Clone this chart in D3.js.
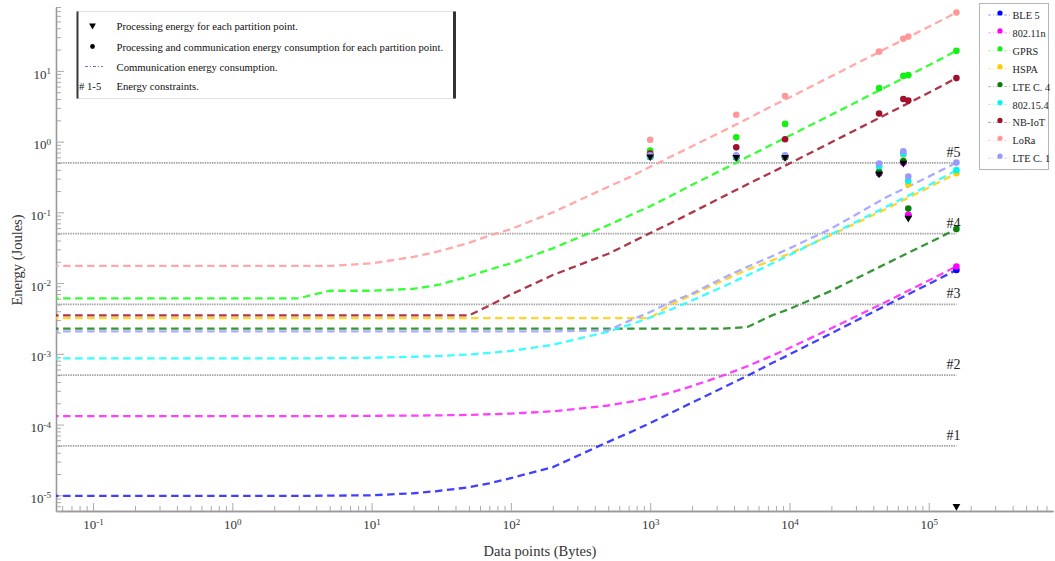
<!DOCTYPE html>
<html>
<head>
<meta charset="utf-8">
<script src="https://cdn.jsdelivr.net/npm/d3@7"></script>
<style>
  body { margin: 0; background: #fff; }
  svg { display: block; }
  text { font-family: "Liberation Serif", "Times New Roman", serif; }
</style>
</head>
<body>
<svg id="chart" width="1055" height="561"></svg>
<script>
// ---- data -------------------------------------------------------------
// Payload size (bytes) at which the communication energy curves are sampled
const bytes = [0.05, 0.1, 0.2, 0.5, 1, 2, 3, 5, 10, 20, 30, 50, 70, 100, 200, 500, 700,
               1000, 1400, 2000, 3300, 5000, 7500, 10000, 20000, 50000, 100000, 158000];

// Communication energy (J) per technology
const ble5 = [9.8e-6, 9.8e-6, 9.8e-6, 9.8e-6, 9.8e-6, 9.8e-6, 9.8e-6, 9.9e-6, 1.0e-5, 1.07e-5, 1.15e-5, 1.3e-5, 1.48e-5, 1.75e-5,
              2.5e-5, 5.7e-5, 7.6e-5, 1.05e-4, 1.45e-4, 2.05e-4, 3.3e-4, 4.9e-4, 7.4e-4, 9.8e-4, 1.95e-3, 4.9e-3, 9.7e-3, 0.0153];
const wifi80211n = [1.32e-4, 1.32e-4, 1.32e-4, 1.32e-4, 1.32e-4, 1.32e-4, 1.32e-4, 1.32e-4, 1.33e-4, 1.34e-4, 1.35e-4, 1.37e-4, 1.4e-4, 1.43e-4,
                    1.54e-4, 1.86e-4, 2.08e-4, 2.4e-4, 2.83e-4, 3.5e-4, 4.9e-4, 6.7e-4, 9.4e-4, 1.21e-3, 2.3e-3, 5.5e-3, 0.0109, 0.0172];
const gprs = [6.1e-3, 6.1e-3, 6.1e-3, 6.1e-3, 6.1e-3, 6.1e-3, 6.1e-3, 7.8e-3, 7.8e-3, 8.3e-3, 9.4e-3, 0.0125, 0.0155, 0.019,
              0.031, 0.066, 0.089, 0.122, 0.17, 0.245, 0.40, 0.61, 0.91, 1.21, 2.4, 6.0, 12.0, 19.2];
const hspa = [3.2e-3, 3.2e-3, 3.2e-3, 3.2e-3, 3.2e-3, 3.2e-3, 3.2e-3, 3.2e-3, 3.2e-3, 3.2e-3, 3.2e-3, 3.2e-3, 3.2e-3, 3.2e-3,
              3.2e-3, 3.2e-3, 3.2e-3, 3.2e-3, 5.0e-3, 6.8e-3, 0.0108, 0.0155, 0.021, 0.026, 0.048, 0.113, 0.225, 0.357];
const lteCat4 = [2.27e-3, 2.27e-3, 2.27e-3, 2.27e-3, 2.27e-3, 2.27e-3, 2.27e-3, 2.27e-3, 2.27e-3, 2.27e-3, 2.27e-3, 2.27e-3, 2.27e-3, 2.27e-3,
                 2.27e-3, 2.27e-3, 2.27e-3, 2.27e-3, 2.27e-3, 2.27e-3, 2.27e-3, 2.4e-3, 3.5e-3, 4.3e-3, 7.8e-3, 0.019, 0.037, 0.058];
const ieee802154 = [8.6e-4, 8.6e-4, 8.6e-4, 8.6e-4, 8.6e-4, 8.6e-4, 8.6e-4, 8.7e-4, 8.8e-4, 9.1e-4, 9.3e-4, 9.8e-4, 1.03e-3, 1.1e-3,
                    1.34e-3, 2.06e-3, 2.54e-3, 3.26e-3, 4.2e-3, 5.7e-3, 8.8e-3, 0.0129, 0.0189, 0.0249, 0.049, 0.121, 0.241, 0.395];
const nbIot = [3.5e-3, 3.5e-3, 3.5e-3, 3.5e-3, 3.5e-3, 3.5e-3, 3.5e-3, 3.5e-3, 3.5e-3, 3.5e-3, 3.5e-3, 3.5e-3, 4.8e-3, 6.9e-3,
               0.013, 0.026, 0.036, 0.051, 0.07, 0.1, 0.165, 0.25, 0.37, 0.49, 0.98, 2.45, 4.9, 7.9];
const lora = [0.0175, 0.0175, 0.0175, 0.0175, 0.0175, 0.0175, 0.0175, 0.0175, 0.019, 0.0235, 0.028, 0.037, 0.047, 0.058,
              0.1, 0.23, 0.31, 0.44, 0.61, 0.86, 1.4, 2.1, 3.2, 4.2, 8.4, 21, 42, 66.8];
const lteCat1 = [2.08e-3, 2.08e-3, 2.08e-3, 2.08e-3, 2.08e-3, 2.08e-3, 2.08e-3, 2.08e-3, 2.08e-3, 2.08e-3, 2.08e-3, 2.08e-3, 2.08e-3, 2.08e-3,
                 2.08e-3, 2.15e-3, 2.9e-3, 3.9e-3, 5.4e-3, 7.1e-3, 0.0117, 0.017, 0.024, 0.031, 0.059, 0.165, 0.32, 0.505];

// Partition points: output size (bytes) of each candidate split
const partitionBytes = [1000, 4150, 9300, 44000, 65700, 71300, 158000];
const processingEnergy = [0.61, 0.60, 0.60, 0.35, 0.50, 0.083, 7e-6];

// Processing + communication energy (J) at each partition point
const ble5Total       = [0.61, 0.60, 0.60, 0.355, 0.507, 0.090, 0.0153];
const wifi80211nTotal = [0.61, 0.60, 0.60, 0.356, 0.508, 0.092, 0.0172];
const gprsTotal       = [0.75, 1.15, 1.78, 5.7, 8.5, 8.7, 19.2];
const hspaTotal       = [0.613, 0.61, 0.625, 0.44, 0.65, 0.25, 0.357];
const lteCat4Total    = [0.612, 0.602, 0.604, 0.37, 0.53, 0.113, 0.058];
const ieee802154Total = [0.613, 0.61, 0.625, 0.45, 0.67, 0.28, 0.395];
const nbIotTotal      = [0.68, 0.83, 1.08, 2.5, 4.0, 3.8, 7.9];
const loraTotal       = [1.06, 2.4, 4.4, 18.7, 28.4, 30.5, 66.8];
const lteCat1Total    = [0.64, 0.64, 0.64, 0.49, 0.73, 0.32, 0.505];

const seriesNames = ["BLE 5", "802.11n", "GPRS", "HSPA", "LTE C. 4", "802.15.4", "NB-IoT", "LoRa", "LTE C. 1"];

// Energy constraints
const constraintLevels = [5e-5, 5e-4, 5e-3, 0.05, 0.5];
const constraintLabels = ["#1", "#2", "#3", "#4", "#5"];

const xTickValues = [0.1, 1, 10, 100, 1000, 10000, 100000];
const yTickValues = [1e-5, 1e-4, 1e-3, 1e-2, 1e-1, 1, 10];

// ---- styling ----------------------------------------------------------
const seriesStyle = [
  { line: "#3030ff", dot: "#0000ff" },
  { line: "#ff30ff", dot: "#ff00ff" },
  { line: "#26ff26", dot: "#14f014" },
  { line: "#ffd01a", dot: "#ffcc00" },
  { line: "#258c25", dot: "#0b7d0b" },
  { line: "#2affff", dot: "#00f4f4" },
  { line: "#a52638", dot: "#a0102d" },
  { line: "#ffa2a2", dot: "#ff9898" },
  { line: "#a4a4ff", dot: "#9898ff" }
];

const lineValues = [ble5, wifi80211n, gprs, hspa, lteCat4, ieee802154, nbIot, lora, lteCat1];
const totalValues = [ble5Total, wifi80211nTotal, gprsTotal, hspaTotal, lteCat4Total,
                     ieee802154Total, nbIotTotal, loraTotal, lteCat1Total];

const series = seriesNames.map((name, i) => ({
  name,
  style: seriesStyle[i],
  curve: bytes.map((b, j) => [b, lineValues[i][j]]),
  points: partitionBytes.map((b, j) => [b, totalValues[i][j]])
}));

// ---- layout -----------------------------------------------------------
const plot = { left: 56, right: 1053, top: 7, bottom: 511 };
const svg = d3.select("#chart");

const x = d3.scaleLog().domain([0.0542, 7.8e5]).range([plot.left, plot.right]);
const y = d3.scaleLog().domain([6e-6, 80]).range([plot.bottom, plot.top]);

svg.append("defs").append("clipPath").attr("id", "plot-area")
  .append("rect")
  .attr("x", plot.left).attr("y", plot.top)
  .attr("width", plot.right - plot.left).attr("height", plot.bottom - plot.top);

// minor tick positions (2..9 in each decade inside the domain)
function minorTicks(scale) {
  const [a, b] = scale.domain();
  const out = [];
  for (let e = Math.floor(Math.log10(a)); e <= Math.ceil(Math.log10(b)); e++) {
    for (let k = 2; k <= 9; k++) {
      const v = k * Math.pow(10, e);
      if (v >= a && v <= b) out.push(v);
    }
  }
  return out;
}

function powerLabel(sel) {
  sel.each(function (d) {
    const t = d3.select(this);
    const exp = Math.round(Math.log10(d));
    t.text(null);
    t.append("tspan").text("10");
    t.append("tspan").attr("dy", "-0.5em").attr("font-size", "9px").text(exp);
  });
}

const tickColor = "#aaaaaa";
const axisColor = "#999999";
const textColor = "#333333";

// x axis (ticks point into the plot)
const gxMinor = svg.append("g").attr("transform", `translate(0,${plot.bottom})`)
  .call(d3.axisBottom(x).tickValues(minorTicks(x)).tickSize(-5).tickSizeOuter(0).tickFormat(""));
const gx = svg.append("g").attr("transform", `translate(0,${plot.bottom})`)
  .call(d3.axisBottom(x).tickValues(xTickValues).tickSize(-8).tickSizeOuter(0).tickPadding(9));
gx.selectAll(".tick text").attr("font-size", "13px").attr("fill", textColor)
  .attr("font-family", "Liberation Serif, serif").call(powerLabel);

// y axis
const gyMinor = svg.append("g").attr("transform", `translate(${plot.left},0)`)
  .call(d3.axisLeft(y).tickValues(minorTicks(y)).tickSize(-5).tickSizeOuter(0).tickFormat(""));
const gy = svg.append("g").attr("transform", `translate(${plot.left},0)`)
  .call(d3.axisLeft(y).tickValues(yTickValues).tickSize(-8).tickSizeOuter(0).tickPadding(5));
gy.selectAll(".tick text").attr("font-size", "13px").attr("fill", textColor)
  .attr("font-family", "Liberation Serif, serif").attr("dy", "0.55em").call(powerLabel);

[gxMinor, gx, gyMinor, gy].forEach(g => {
  g.selectAll(".tick line").attr("stroke", tickColor).attr("stroke-width", 1);
  g.select(".domain").attr("stroke", axisColor).attr("stroke-width", 1.3);
});

// axis titles
svg.append("text")
  .attr("x", 540).attr("y", 556)
  .attr("text-anchor", "middle").attr("font-size", "14.5px").attr("fill", textColor)
  .text("Data points (Bytes)");
svg.append("text")
  .attr("transform", "translate(22,260) rotate(-90)")
  .attr("text-anchor", "middle").attr("font-size", "14.5px").attr("fill", textColor)
  .text("Energy (Joules)");

// ---- energy constraints -------------------------------------------------
const lastByte = bytes[bytes.length - 1];
const gc = svg.append("g");
gc.selectAll("line").data(constraintLevels).join("line")
  .attr("x1", x(x.domain()[0])).attr("x2", x(lastByte))
  .attr("y1", d => y(d)).attr("y2", d => y(d))
  .attr("stroke", "#a0a0a0").attr("stroke-width", 1.8).attr("stroke-dasharray", "1.4,1");
gc.selectAll("text").data(constraintLevels).join("text")
  .attr("x", x(lastByte) + 4).attr("y", d => y(d) - 6)
  .attr("text-anchor", "end").attr("font-size", "14px").attr("fill", "#222")
  .text((d, i) => constraintLabels[i]);

// ---- communication energy curves -----------------------------------------
const line = d3.line().x(d => x(d[0])).y(d => y(d[1]));
const gl = svg.append("g").attr("clip-path", "url(#plot-area)");
gl.selectAll("path").data(series).join("path")
  .attr("d", d => line(d.curve))
  .attr("fill", "none")
  .attr("stroke", d => d.style.line)
  .attr("stroke-width", 2.3)
  .attr("stroke-dasharray", "7.5,4.5")
  .attr("opacity", 0.92);

// ---- partition points ---------------------------------------------------------
const gp = svg.append("g");
series.forEach(s => {
  gp.append("g").selectAll("circle").data(s.points).join("circle")
    .attr("cx", d => x(d[0])).attr("cy", d => y(d[1])).attr("r", 3.3)
    .attr("fill", s.style.dot);
});
const tri = d3.symbol().type(d3.symbolTriangle).size(26);
gp.append("g").selectAll("path")
  .data(partitionBytes.map((b, i) => [b, processingEnergy[i]]))
  .join("path")
  .attr("d", tri)
  .attr("transform", d => `translate(${x(d[0])},${y(d[1])}) rotate(180)`)
  .attr("fill", "#000");

// ---- legend: symbols ---------------------------------------------------------
const lg1 = svg.append("g");
lg1.append("rect").attr("x", 77).attr("y", 11.5).attr("width", 378).attr("height", 87)
  .attr("fill", "#fff").attr("stroke", "#e2e2e2").attr("stroke-width", 1);
lg1.append("line").attr("x1", 77.5).attr("x2", 77.5).attr("y1", 11.5).attr("y2", 98.5)
  .attr("stroke", "#3a3a3a").attr("stroke-width", 2);
lg1.append("line").attr("x1", 454.5).attr("x2", 454.5).attr("y1", 11.5).attr("y2", 98.5)
  .attr("stroke", "#333").attr("stroke-width", 3);
lg1.append("path").attr("d", d3.symbol().type(d3.symbolTriangle).size(20))
  .attr("transform", "translate(92.5,25.5) rotate(180)").attr("fill", "#000");
lg1.append("circle").attr("cx", 92.5).attr("cy", 46.5).attr("r", 2.4).attr("fill", "#000");
lg1.append("line").attr("x1", 85).attr("x2", 103).attr("y1", 66.5).attr("y2", 66.5)
  .attr("stroke", "#6f6fd0").attr("stroke-width", 1).attr("stroke-dasharray", "3,2,1,2");
const lg1Text = [
  ["Processing energy for each partition point.", 29.5],
  ["Processing and communication energy consumption for each partition point.", 50.5],
  ["Communication energy consumption.", 70.5],
  ["Energy constraints.", 89.5]
];
lg1.selectAll("text.item").data(lg1Text).join("text").attr("class", "item")
  .attr("x", 116.5).attr("y", d => d[1]).attr("font-size", "10.7px").attr("fill", "#111")
  .text(d => d[0]);
lg1.append("text").attr("x", 79).attr("y", 89.5).attr("font-size", "10.7px").attr("fill", "#111")
  .text("# 1-5");

// ---- legend: technologies ---------------------------------------------------
const lg2 = svg.append("g");
lg2.append("rect").attr("x", 979.5).attr("y", 3.5).attr("width", 69).attr("height", 166)
  .attr("fill", "#fff").attr("stroke", "#b5b5b5").attr("stroke-width", 1);
const rows = lg2.selectAll("g.row").data(series).join("g").attr("class", "row")
  .attr("transform", (d, i) => `translate(0,${15 + i * 17.9})`);
rows.append("line").attr("x1", 988).attr("x2", 1011).attr("y1", 0).attr("y2", 0)
  .attr("stroke", d => d.style.line).attr("stroke-width", 1).attr("opacity", 0.45)
  .attr("stroke-dasharray", "3,2,1,2");
rows.append("circle").attr("cx", 1000).attr("cy", -2).attr("r", 2.6).attr("fill", d => d.style.dot);
rows.append("text").attr("x", 1012.5).attr("y", 4).attr("font-size", "10.3px").attr("fill", "#222")
  .text(d => d.name);
</script>
</body>
</html>
